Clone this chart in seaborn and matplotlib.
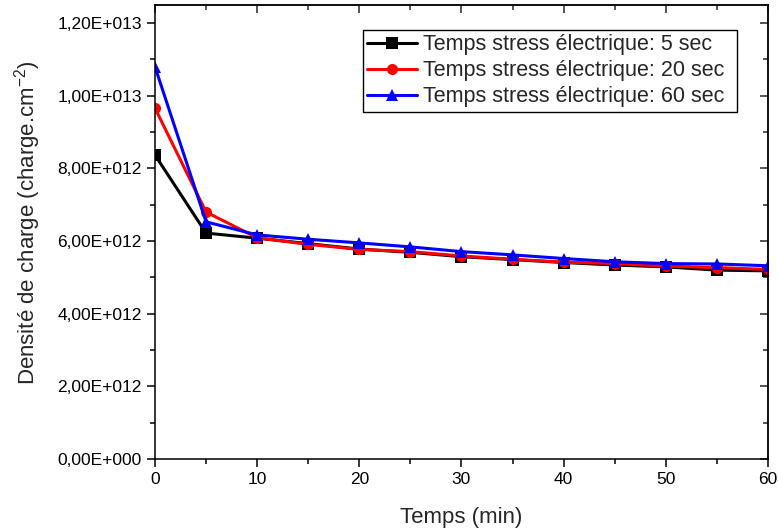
import math
import matplotlib
matplotlib.use("Agg")
import matplotlib.pyplot as plt
import matplotlib.ticker as mtick
import pandas as pd
import seaborn as sns

# temps (min) et densité de charge (charge.cm-2)
temps = [0, 5, 10, 15, 20, 25, 30, 35, 40, 45, 50, 55, 60]
stress_5s = [8.37e12, 6.22e12, 6.08e12, 5.93e12, 5.78e12, 5.69e12, 5.57e12,
             5.49e12, 5.41e12, 5.34e12, 5.29e12, 5.20e12, 5.18e12]
stress_20s = [9.66e12, 6.80e12, 6.09e12, 5.91e12, 5.77e12, 5.71e12, 5.59e12,
              5.50e12, 5.42e12, 5.38e12, 5.31e12, 5.27e12, 5.22e12]
stress_60s = [1.08e13, 6.53e12, 6.17e12, 6.05e12, 5.95e12, 5.84e12, 5.71e12,
              5.62e12, 5.52e12, 5.43e12, 5.38e12, 5.37e12, 5.32e12]
labels = ["Temps stress électrique: 5 sec",
          "Temps stress électrique: 20 sec",
          "Temps stress électrique: 60 sec"]

sns.set_style("white")
plt.rcParams["font.family"] = ["Liberation Sans", "DejaVu Sans"]
plt.rcParams["mathtext.fontset"] = "custom"
plt.rcParams["mathtext.rm"] = "Liberation Sans"
plt.rcParams["mathtext.it"] = "Liberation Sans"

fig = plt.figure(figsize=(7.78, 5.31), dpi=100)
ax = fig.add_axes([0.1992, 0.1356, 0.7878, 0.855])

series = [stress_5s, stress_20s, stress_60s]
colors = ["black", "red", "blue"]
markers = ["s", "o", "^"]
for vals, lab, c, m in zip(series, labels, colors, markers):
    df = pd.DataFrame({"t": temps, "q": vals})
    sns.lineplot(data=df, x="t", y="q", ax=ax, color=c, marker=m, markersize=8,
                 markeredgewidth=0, linewidth=2.2, label=lab)

ax.set_xlim(0, 60)
ax.set_ylim(0, 1.25e13)
ax.xaxis.set_major_locator(mtick.MultipleLocator(10))
ax.xaxis.set_minor_locator(mtick.MultipleLocator(5))
ax.yaxis.set_major_locator(mtick.MultipleLocator(2e12))
ax.yaxis.set_minor_locator(mtick.MultipleLocator(1e12))


def sci_fmt(v, _):
    if v == 0:
        return "0,00E+000"
    e = int(math.floor(math.log10(abs(v))))
    m = v / 10 ** e
    return f"{m:.2f}".replace(".", ",") + f"E+{e:03d}"


ax.yaxis.set_major_formatter(mtick.FuncFormatter(sci_fmt))
ax.tick_params(axis="both", which="major", direction="out", length=6, width=1.1,
               labelsize=12.5, color="black", labelcolor="black")
ax.tick_params(axis="both", which="minor", direction="out", length=3.5, width=1.1,
               color="black")
ax.tick_params(bottom=True, left=True, which="both")

# ticks internes en haut et à droite
top = ax.secondary_xaxis("top")
top.xaxis.set_major_locator(mtick.MultipleLocator(10))
top.xaxis.set_minor_locator(mtick.MultipleLocator(5))
top.tick_params(which="major", direction="in", length=6, width=1.1, labeltop=False)
top.tick_params(which="minor", direction="in", length=3.5, width=1.1)
right = ax.secondary_yaxis("right")
right.yaxis.set_major_locator(mtick.MultipleLocator(2e12))
right.yaxis.set_minor_locator(mtick.MultipleLocator(1e12))
right.tick_params(which="major", direction="in", length=6, width=1.1, labelright=False)
right.tick_params(which="minor", direction="in", length=3.5, width=1.1)
for a in (top, right):
    for s in a.spines.values():
        s.set_linewidth(1.1)

for s in ax.spines.values():
    s.set_visible(True)
    s.set_color("black")
    s.set_linewidth(1.1)

ax.set_xlabel("Temps (min)", fontsize=16, labelpad=14)
ax.set_ylabel("Densité de charge (charge.cm$^{-2}$)", fontsize=16)
ax.yaxis.set_label_coords(-0.182, 0.52)

leg = ax.legend(loc="upper left", bbox_to_anchor=(0.3393, 0.0, 0.6101, 0.9449),
                mode="expand", borderaxespad=0, fontsize=15.5, frameon=True,
                fancybox=False, framealpha=1, edgecolor="black",
                labelspacing=0.23, handlelength=2.3, handletextpad=0.3,
                borderpad=0.2)
leg.get_frame().set_linewidth(1.0)

fig.savefig("out.png", dpi=100)
